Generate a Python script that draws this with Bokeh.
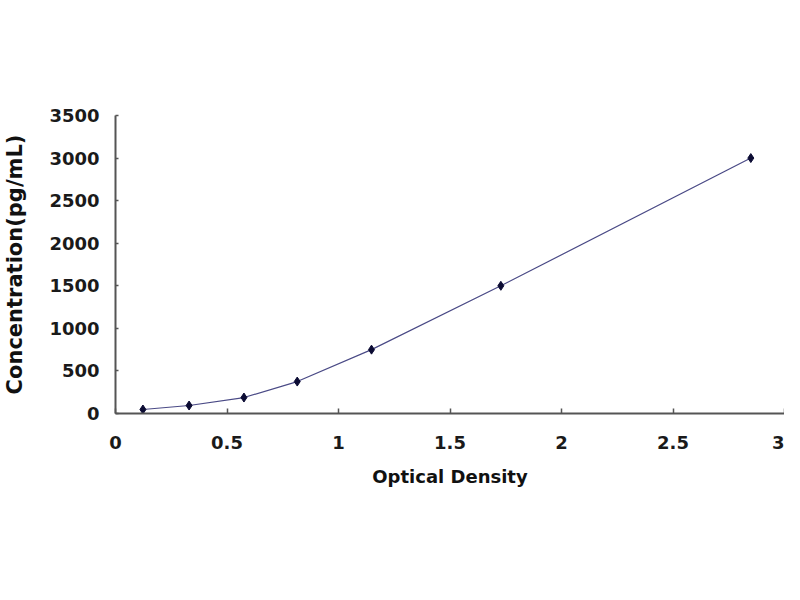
from bokeh.plotting import figure
from bokeh.models import Range1d, FixedTicker
from bokeh.embed import file_html
from bokeh.resources import INLINE

# Data
od = [0.123, 0.33, 0.576, 0.815, 1.148, 1.728, 2.849]
conc = [46.88, 93.75, 187.5, 375, 750, 1500, 3000]
x_ticks = [0, 0.5, 1, 1.5, 2, 2.5, 3]
y_ticks = [0, 500, 1000, 1500, 2000, 2500, 3000, 3500]

p = figure(width=784, height=584, output_backend="svg", toolbar_location=None,
           x_range=Range1d(0, 3), y_range=Range1d(0, 3500),
           min_border_left=108, min_border_right=0, min_border_top=115,
           min_border_bottom=171)
p.outline_line_color = None
p.grid.visible = False
p.background_fill_color = "white"
p.border_fill_color = "white"

p.line(od, conc, line_color="#4a4a86", line_width=1.2)
p.scatter(od, conc, marker="diamond", size=9, fill_color="#0b0b33", line_color="#0b0b33")

font = "DejaVu Sans"
for ax in (p.xaxis[0], p.yaxis[0]):
    ax.axis_line_color = "#555555"
    ax.axis_line_width = 2
    ax.major_tick_line_color = "#555555"
    ax.major_tick_line_width = 1.5
    ax.major_tick_out = 0
    ax.minor_tick_line_color = None
    ax.major_label_text_font = font
    ax.major_label_text_font_style = "bold"
    ax.major_label_text_font_size = "18px"
    ax.major_label_text_color = "#1a1a1a"
    ax.axis_label_text_font = font
    ax.axis_label_text_font_style = "bold"
    ax.axis_label_text_color = "#111111"

p.xaxis.ticker = FixedTicker(ticks=x_ticks)
p.xaxis.major_label_overrides = {0: "0", 0.5: "0.5", 1: "1", 1.5: "1.5", 2: "2", 2.5: "2.5", 3: "3"}
p.xaxis.major_tick_in = 5
p.xaxis.major_label_standoff = 22
p.xaxis.axis_label = "Optical Density"
p.xaxis.axis_label_text_font_size = "18px"
p.xaxis.axis_label_standoff = 14

p.yaxis.ticker = FixedTicker(ticks=y_ticks)
p.yaxis.major_tick_in = 3
p.yaxis.major_label_standoff = 16
p.yaxis.axis_label = "Concentration(pg/mL)"
p.yaxis.axis_label_text_font_size = "21px"
p.yaxis.axis_label_standoff = 19

open("out.html", "w").write(file_html(p, INLINE))
